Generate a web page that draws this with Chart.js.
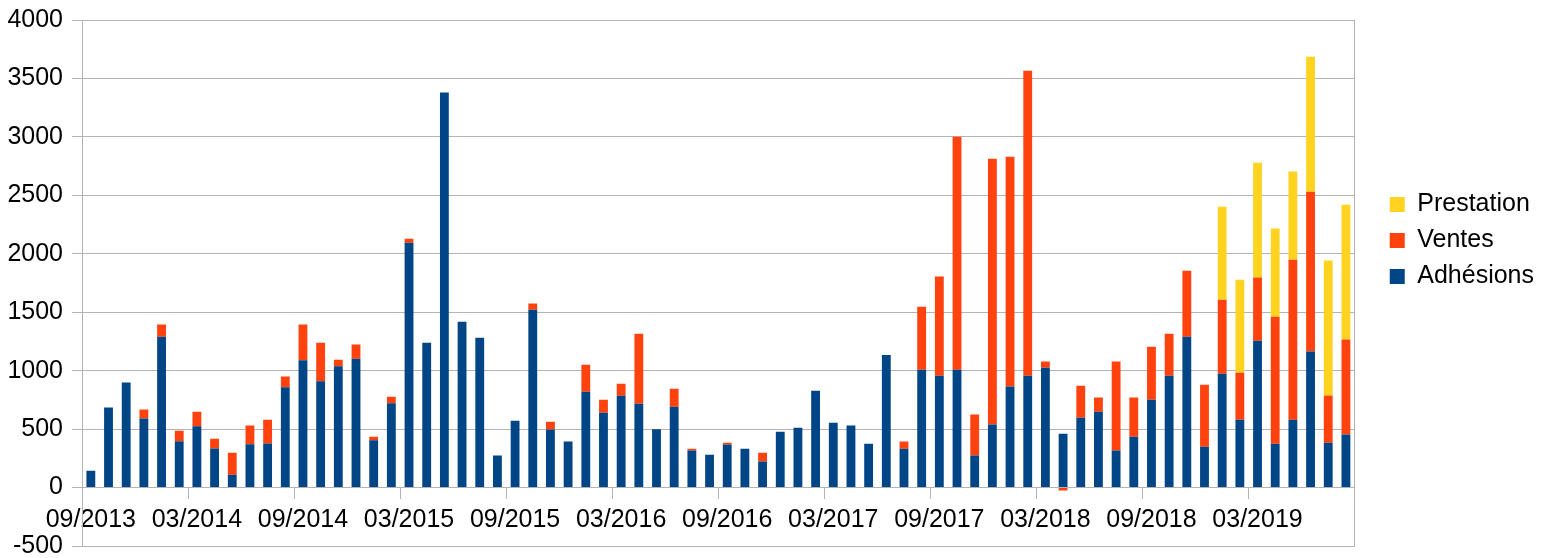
<!DOCTYPE html>
<html>
<head>
<meta charset="utf-8">
<script src="https://cdn.jsdelivr.net/npm/chart.js@4"></script>
<style>
  html, body { margin: 0; padding: 0; background: #fff; }
  canvas { display: block; }
</style>
</head>
<body>
<canvas id="chart" width="1544" height="558"></canvas>
<script>
// Months (tick labels shown every 6 months)
const months = [
  "09/2013","10/2013","11/2013","12/2013","01/2014","02/2014","03/2014","04/2014","05/2014","06/2014","07/2014","08/2014",
  "09/2014","10/2014","11/2014","12/2014","01/2015","02/2015","03/2015","04/2015","05/2015","06/2015","07/2015","08/2015",
  "09/2015","10/2015","11/2015","12/2015","01/2016","02/2016","03/2016","04/2016","05/2016","06/2016","07/2016","08/2016",
  "09/2016","10/2016","11/2016","12/2016","01/2017","02/2017","03/2017","04/2017","05/2017","06/2017","07/2017","08/2017",
  "09/2017","10/2017","11/2017","12/2017","01/2018","02/2018","03/2018","04/2018","05/2018","06/2018","07/2018","08/2018",
  "09/2018","10/2018","11/2018","12/2018","01/2019","02/2019","03/2019","04/2019","05/2019","06/2019","07/2019","08/2019"
];

const adhesions = [
  143, 685, 898, 590, 1291, 396, 524, 335, 110, 371, 377, 858,
  1090, 910, 1038, 1102, 405, 721, 2094, 1239, 3379, 1419, 1282, 274,
  572, 1522, 496, 393, 819, 639, 785, 718, 499, 691, 317, 280,
  368, 332, 222, 478, 511, 828, 554, 530, 374, 1135, 332, 1008,
  956, 1008, 274, 539, 865, 956, 1026, 460, 597, 648, 317, 435,
  752, 956, 1291, 350, 974, 581, 1257, 374, 581, 1163, 384, 454
];

const ventes = [
  0, 0, 0, 77, 103, 91, 124, 82, 188, 159, 204, 92,
  304, 329, 55, 122, 30, 55, 34, 0, 0, 0, 0, 0,
  0, 52, 67, 0, 231, 113, 104, 597, 0, 155, 15, 0,
  16, 0, 76, 0, 0, 0, 0, 0, 0, 0, 61, 538,
  849, 1994, 350, 2274, 1966, 2609, 52, -25, 274, 122, 761, 335,
  453, 359, 563, 530, 633, 402, 539, 1087, 1367, 1367, 404, 812
];

const prestation = [
  0, 0, 0, 0, 0, 0, 0, 0, 0, 0, 0, 0,
  0, 0, 0, 0, 0, 0, 0, 0, 0, 0, 0, 0,
  0, 0, 0, 0, 0, 0, 0, 0, 0, 0, 0, 0,
  0, 0, 0, 0, 0, 0, 0, 0, 0, 0, 0, 0,
  0, 0, 0, 0, 0, 0, 0, 0, 0, 0, 0, 0,
  0, 0, 0, 0, 795, 795, 983, 755, 755, 1156, 1154, 1154
];

const gridColor = "#b3b3b3";
const font = { family: "'Liberation Sans', Arial, sans-serif", size: 25 };

new Chart(document.getElementById("chart"), {
  type: "bar",
  data: {
    labels: months,
    datasets: [
      { label: "Adhésions", data: adhesions, backgroundColor: "#004586" },
      { label: "Ventes", data: ventes, backgroundColor: "#ff420e" },
      { label: "Prestation", data: prestation, backgroundColor: "#ffd320" }
    ]
  },
  options: {
    responsive: false,
    animation: false,
    devicePixelRatio: 1,
    layout: { padding: { top: 20, bottom: 12, left: 0, right: 0 } },
    datasets: {
      bar: { categoryPercentage: 0.5, barPercentage: 1, borderWidth: 0 }
    },
    scales: {
      x: {
        stacked: true,
        position: { y: 0 },
        offset: true,
        grid: {
          offset: true,
          drawOnChartArea: false,
          drawTicks: true,
          tickLength: 11,
          color: ctx => (ctx.index % 6 === 0 ? gridColor : "rgba(0,0,0,0)")
        },
        border: { display: true, color: gridColor },
        ticks: {
          autoSkip: false,
          maxRotation: 0,
          padding: 7,
          color: "#000",
          font: font,
          callback: (v, i) => (i % 6 === 0 ? months[i] : "")
        },
        afterFit: s => { s.paddingLeft = 0; s.paddingRight = 0; }
      },
      y: {
        stacked: true,
        min: -500,
        max: 4000,
        ticks: { stepSize: 500, padding: 9, color: "#000", font: font, callback: v => String(v) },
        grid: { color: gridColor, tickLength: 10 },
        border: { display: true, color: gridColor },
        afterFit: s => { s.width = 82; s.paddingTop = 0; s.paddingBottom = 0; }
      },
      y2: {
        position: "right",
        display: true,
        ticks: { display: false },
        grid: { display: false, drawTicks: false },
        border: { display: true, color: gridColor },
        afterFit: s => { s.width = 24; s.paddingTop = 0; s.paddingBottom = 0; }
      }
    },
    plugins: {
      tooltip: { enabled: false },
      legend: {
        position: "right",
        align: "start",
        reverse: true,
        title: { display: true, text: "", font: { size: 10 }, padding: { top: 149, bottom: 0 } },
        labels: { boxWidth: 15, boxHeight: 15, padding: 11, color: "#000", font: font }
      }
    }
  }
});
</script>
</body>
</html>
